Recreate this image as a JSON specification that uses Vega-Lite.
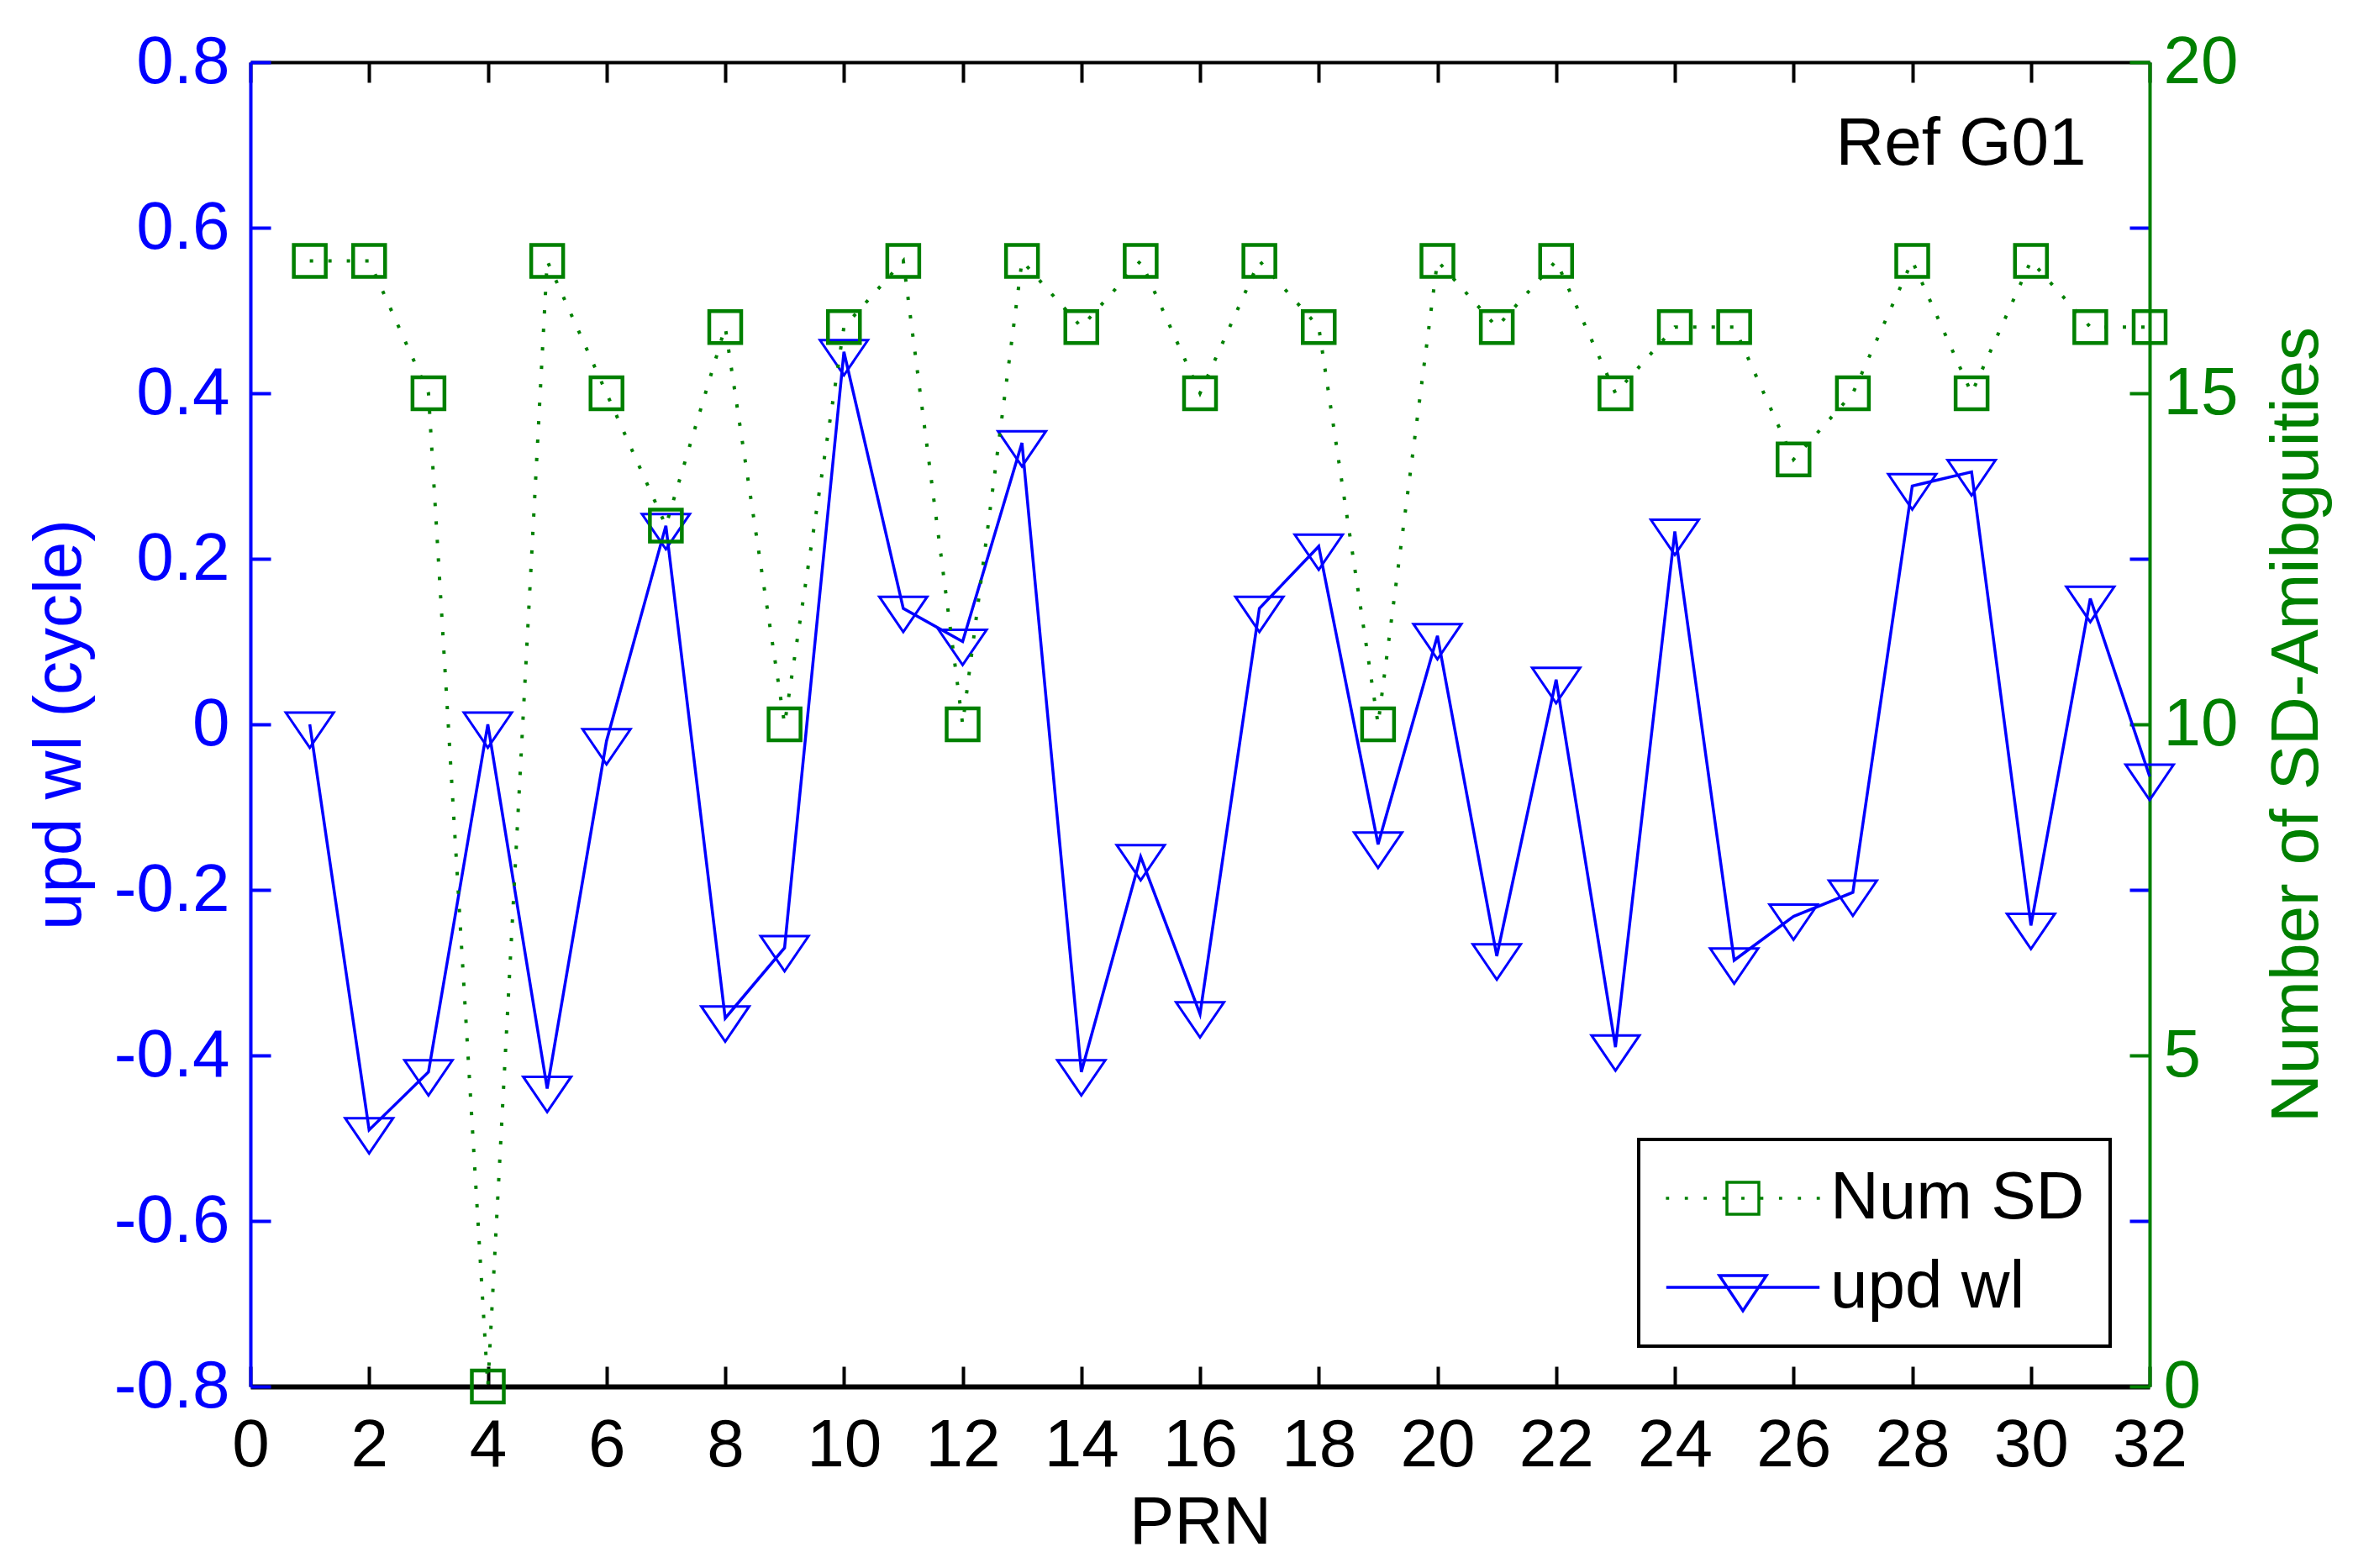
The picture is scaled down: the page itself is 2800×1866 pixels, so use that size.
{
  "$schema": "https://vega.github.io/schema/vega-lite/v6.json",
  "width": 2260,
  "height": 1576,
  "autosize": "none",
  "padding": {"left": 298, "top": 74, "right": 242, "bottom": 216},
  "background": "white",
  "view": {"stroke": null},
  "config": {"legend": {"strokeWidth": 4}},
  "datasets": {
    "prns": [
      {"prn": 1, "upd": 0.0, "num": 17},
      {"prn": 2, "upd": -0.49, "num": 17},
      {"prn": 3, "upd": -0.42, "num": 15},
      {"prn": 4, "upd": 0.0, "num": 0},
      {"prn": 5, "upd": -0.44, "num": 17},
      {"prn": 6, "upd": -0.02, "num": 15},
      {"prn": 7, "upd": 0.24, "num": 13},
      {"prn": 8, "upd": -0.355, "num": 16},
      {"prn": 9, "upd": -0.27, "num": 10},
      {"prn": 10, "upd": 0.45, "num": 16},
      {"prn": 11, "upd": 0.14, "num": 17},
      {"prn": 12, "upd": 0.1, "num": 10},
      {"prn": 13, "upd": 0.34, "num": 17},
      {"prn": 14, "upd": -0.42, "num": 16},
      {"prn": 15, "upd": -0.16, "num": 17},
      {"prn": 16, "upd": -0.35, "num": 15},
      {"prn": 17, "upd": 0.14, "num": 17},
      {"prn": 18, "upd": 0.215, "num": 16},
      {"prn": 19, "upd": -0.145, "num": 10},
      {"prn": 20, "upd": 0.107, "num": 17},
      {"prn": 21, "upd": -0.28, "num": 16},
      {"prn": 22, "upd": 0.054, "num": 17},
      {"prn": 23, "upd": -0.39, "num": 15},
      {"prn": 24, "upd": 0.233, "num": 16},
      {"prn": 25, "upd": -0.285, "num": 16},
      {"prn": 26, "upd": -0.232, "num": 14},
      {"prn": 27, "upd": -0.203, "num": 15},
      {"prn": 28, "upd": 0.288, "num": 17},
      {"prn": 29, "upd": 0.305, "num": 15},
      {"prn": 30, "upd": -0.243, "num": 17},
      {"prn": 31, "upd": 0.152, "num": 16},
      {"prn": 32, "upd": -0.063, "num": 16}
    ]
  },
  "data": {"name": "prns"},
  "layer": [
    {
      "layer": [
        {
          "mark": {"type": "line", "color": "#0000ff", "strokeWidth": 3.5},
          "encoding": {
            "x": {
              "field": "prn",
              "type": "quantitative",
              "scale": {"domain": [0, 32], "nice": false, "zero": false},
              "axis": {
                "orient": "bottom",
                "values": [0, 2, 4, 6, 8, 10, 12, 14, 16, 18, 20, 22, 24, 26, 28, 30, 32],
                "labelExpr": "datum.value + ''",
                "grid": false,
                "domainColor": "black",
                "domainWidth": 6,
                "tickColor": "black",
                "tickWidth": 4,
                "tickSize": -24,
                "labelFont": "Liberation Sans",
                "labelFontSize": 80,
                "labelColor": "black",
                "labelBaseline": "alphabetic",
                "labelPadding": 118,
                "labelFlush": false,
                "labelOverlap": false,
                "labelBound": false,
                "title": "PRN",
                "titleFont": "Liberation Sans",
                "titleFontSize": 80,
                "titleFontWeight": "normal",
                "titleColor": "black",
                "titleBaseline": "alphabetic",
                "titleX": 1130,
                "titleY": 186
              }
            },
            "y": {
              "field": "upd",
              "type": "quantitative",
              "scale": {"domain": [-0.8, 0.8], "nice": false, "zero": false},
              "axis": {
                "orient": "left",
                "values": [-0.8, -0.6, -0.4, -0.2, 0, 0.2, 0.4, 0.6, 0.8],
                "labelExpr": "datum.value + ''",
                "grid": false,
                "domainColor": "#0000ff",
                "domainWidth": 4,
                "tickColor": "#0000ff",
                "tickWidth": 4,
                "tickSize": -24,
                "labelFont": "Liberation Sans",
                "labelFontSize": 80,
                "labelColor": "#0000ff",
                "labelBaseline": "middle",
                "labelPadding": 49,
                "labelFlush": false,
                "labelOverlap": false,
                "labelBound": false,
                "title": "upd wl (cycle)",
                "titleFont": "Liberation Sans",
                "titleFontSize": 80,
                "titleFontWeight": "normal",
                "titleColor": "#0000ff",
                "titleAngle": 270,
                "titleAlign": "center",
                "titleBaseline": "alphabetic",
                "titleX": -203,
                "titleY": 788
              }
            }
          }
        },
        {
          "mark": {
            "type": "point",
            "shape": "M-1,-0.49L1,-0.49L0,0.98Z",
            "filled": false,
            "color": "#0000ff",
            "strokeWidth": 3,
            "size": 3249,
            "opacity": 1
          },
          "encoding": {
            "x": {"field": "prn", "type": "quantitative"},
            "y": {"field": "upd", "type": "quantitative"}
          }
        },
        {
          "data": {"values": [{}]},
          "mark": {
            "type": "text",
            "text": "Ref G01",
            "font": "Liberation Sans",
            "fontSize": 80,
            "align": "right",
            "baseline": "alphabetic",
            "color": "black"
          },
          "encoding": {
            "x": {"datum": 30.93, "type": "quantitative"},
            "y": {"datum": 0.676, "type": "quantitative"}
          }
        }
      ]
    },
    {
      "layer": [
        {
          "mark": {
            "type": "line",
            "color": "#008000",
            "strokeWidth": 4,
            "strokeDash": [4, 18],
            "strokeCap": "butt"
          },
          "encoding": {
            "x": {
              "field": "prn",
              "type": "quantitative",
              "scale": {"domain": [0, 32], "nice": false, "zero": false},
              "axis": {
                "orient": "top",
                "values": [0, 2, 4, 6, 8, 10, 12, 14, 16, 18, 20, 22, 24, 26, 28, 30, 32],
                "grid": false,
                "labels": false,
                "domainColor": "black",
                "domainWidth": 4,
                "tickColor": "black",
                "tickWidth": 4,
                "tickSize": -24,
                "title": null
              }
            },
            "y": {
              "field": "num",
              "type": "quantitative",
              "scale": {"domain": [0, 20], "nice": false, "zero": false},
              "axis": {
                "orient": "right",
                "values": [0, 2.5, 5, 7.5, 10, 12.5, 15, 17.5, 20],
                "labelExpr": "datum.value % 5 === 0 ? datum.value + '' : ''",
                "grid": false,
                "domainColor": "#008000",
                "domainWidth": 4,
                "tickColor": {
                  "condition": {"test": "datum.value % 5 === 0", "value": "#008000"},
                  "value": "#0000ff"
                },
                "tickWidth": 4,
                "tickSize": -24,
                "labelFont": "Liberation Sans",
                "labelFontSize": 80,
                "labelColor": "#008000",
                "labelBaseline": "middle",
                "labelPadding": 40,
                "labelFlush": false,
                "labelOverlap": false,
                "labelBound": false,
                "title": "Number of SD-Amibguities",
                "titleFont": "Liberation Sans",
                "titleFontSize": 80,
                "titleFontWeight": "normal",
                "titleColor": "#008000",
                "titleAngle": 270,
                "titleAlign": "center",
                "titleBaseline": "alphabetic",
                "titleX": 199,
                "titleY": 788
              }
            }
          }
        },
        {
          "mark": {
            "type": "point",
            "shape": "square",
            "filled": false,
            "color": "#008000",
            "strokeWidth": 4.5,
            "size": 1444,
            "opacity": 1
          },
          "encoding": {
            "x": {"field": "prn", "type": "quantitative"},
            "y": {"field": "num", "type": "quantitative"}
          }
        }
      ]
    },
    {
      "transform": [{"filter": "datum.prn < 0"}],
      "mark": {"type": "point", "filled": false, "opacity": 1, "strokeWidth": 3.5},
      "encoding": {
        "color": {
          "field": "series",
          "type": "nominal",
          "scale": {"domain": ["Num SD", "upd wl"], "range": ["#008000", "#0000ff"]},
          "legend": {
            "title": null,
            "orient": "none",
            "legendX": 1652,
            "legendY": 1282,
            "padding": 30,
            "strokeColor": "black",
            "fillColor": "white",
            "symbolSize": 1444,
            "symbolStrokeWidth": 3.5,
            "symbolOffset": 54,
            "labelFont": "Liberation Sans",
            "labelFontSize": 80,
            "labelColor": "black",
            "labelOffset": 64,
            "labelLimit": 0,
            "rowPadding": 26,
            "encode": {"legend": {"update": {"stroke": {"value": "black"}, "strokeWidth": {"value": 4}}}}
          }
        },
        "shape": {
          "field": "series",
          "type": "nominal",
          "scale": {
            "domain": ["Num SD", "upd wl"],
            "range": [
              "M-4.82,0H-4.62M-3.64,0H-3.44M-2.46,0H-2.26M-1.28,0H-1.08M-0.1,0H0.1M1.08,0H1.28M2.26,0H2.46M3.44,0H3.64M4.62,0H4.82M-1,-1H1V1H-1Z",
              "M-4.8,0H4.8M-1.47,-0.74L1.47,-0.74L0,1.47Z"
            ]
          },
          "legend": {
            "title": null,
            "orient": "none",
            "legendX": 1652,
            "legendY": 1282,
            "padding": 30,
            "strokeColor": "black",
            "fillColor": "white",
            "symbolSize": 1444,
            "symbolStrokeWidth": 3.5,
            "symbolOffset": 54,
            "labelFont": "Liberation Sans",
            "labelFontSize": 80,
            "labelColor": "black",
            "labelOffset": 64,
            "labelLimit": 0,
            "rowPadding": 26,
            "encode": {"legend": {"update": {"stroke": {"value": "black"}, "strokeWidth": {"value": 4}}}}
          }
        }
      }
    }
  ],
  "resolve": {"scale": {"y": "independent"}, "axis": {"x": "independent"}}
}
